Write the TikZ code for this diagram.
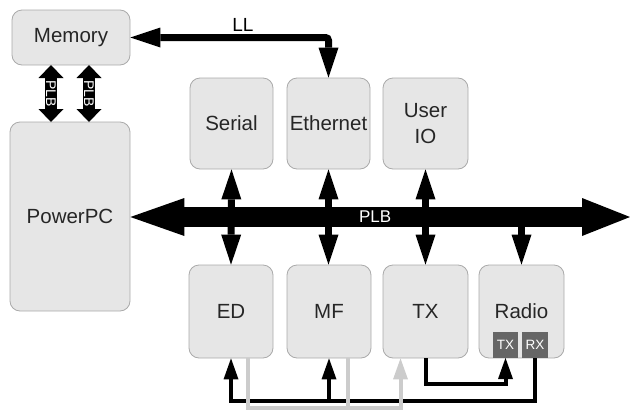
\documentclass[tikz,border=0pt]{standalone}
\usepackage{fontspec}
\setmainfont{Liberation Sans}
\usetikzlibrary{arrows.meta, positioning}
\definecolor{boxfill}{HTML}{E6E6E6}
\definecolor{boxline}{HTML}{AAAAAA}
\definecolor{portfill}{HTML}{666666}
\definecolor{faint}{HTML}{CCCCCC}
\newcommand{\fnt}[1]{\fontsize{#1}{1.25\dimexpr#1pt\relax}\selectfont}

\begin{document}
\begin{tikzpicture}[x=1pt, y=-1pt,
    block/.style={draw=boxline, fill=boxfill, rounded corners=10pt, line width=0.8pt,
        text=black!85, align=center, font=\fnt{20.5}, inner sep=0pt},
    port/.style={fill=portfill, text=white, font=\fnt{13.5}, inner sep=0pt,
        minimum width=25pt, minimum height=26pt},
    bus/.style={line width=20pt, {Triangle[width=38pt,length=54pt,line width'=0pt]}-{Triangle[width=38pt,length=48pt,line width'=0pt]}},
    fat/.style={line width=12pt, {Triangle[width=25pt,length=13pt,line width'=0pt]}-{Triangle[width=25pt,length=13pt,line width'=0pt]}},
    link/.style={line width=7pt, {Triangle[width=20pt,length=30pt,line width'=0pt]}-{Triangle[width=20pt,length=30pt,line width'=0pt]}},
    down/.style={line width=7pt, -{Triangle[width=20pt,length=30pt,line width'=0pt]}},
    wire/.style={line width=4pt, -{Triangle[width=15pt,length=21pt,line width'=0pt]}},
    gwire/.style={wire, draw=faint},
]
\useasboundingbox (0,0) rectangle (630,410);

\node[block, minimum width=118pt, minimum height=55pt] (mem) at (71,37.5) {Memory};
\node[block, minimum width=120pt, minimum height=189pt] (ppc) at (70,216.5) {PowerPC};

\node[block, minimum width=83pt, minimum height=91pt] (serial) at (231.5,123.5) {Serial};
\node[block, minimum width=83pt, minimum height=91pt] (eth) at (328.5,123.5) {Ethernet};
\node[block, minimum width=85pt, minimum height=91pt] (uio) at (425.5,123.5) {User\\IO};

\node[block, minimum width=84pt, minimum height=93pt] (ed) at (231,311.5) {ED};
\node[block, minimum width=84pt, minimum height=93pt] (mf) at (329,311.5) {MF};
\node[block, minimum width=85pt, minimum height=93pt] (tx) at (425.5,311.5) {TX};
\node[block, minimum width=85pt, minimum height=93pt] (radio) at (521.5,311.5) {Radio};
\node[port, anchor=south] (radtx) at (505.5,358) {TX};
\node[port, anchor=south, minimum width=26pt] (radrx) at (535,358) {RX};

% memory <-> powerpc
\draw[fat] (51,65) -- node[rotate=-90, text=white, font=\fnt{14}] (plbl) {PLB} (51,122);
\draw[fat] (89,65) -- node[rotate=-90, text=white, font=\fnt{14}] (plbr) {PLB} (89,122);

% local link
\draw[link, rounded corners=3pt] (mem.east) -| (eth.north);
\node[font=\fnt{19}] (ll) at (243,25) {LL};

% peripheral bus
\coordinate (busend) at (630,217);
\coordinate (radtap) at (radio.north |- busend);
\draw[link] (serial.south) -- (ed.north);
\draw[link] (eth.south) -- (eth.south |- mf.north);
\draw[link] (uio.south) -- (tx.north);
\draw[down] (radtap) -- (radio.north);
\draw[bus] (ppc.east |- busend) -- node[text=white, font=\fnt{17}, xshift=-5pt] (plb) {PLB} (busend);

% data path
\coordinate (lowa) at (0,401);
\coordinate (lowb) at (0,408);
\coordinate (lowc) at (0,384);
\draw[wire] (tx.south) |- (radtx.south |- lowc) -- (radtx.south);
\draw[wire] (radrx.south) |- (ed.south |- lowa) -- (ed.south);
\draw[wire] (mf.south |- lowa) -- (mf.south);
\draw[gwire, -] ([xshift=19pt]mf.south) -- ([xshift=19pt]mf.south |- lowb);
\draw[gwire] ([xshift=17pt]ed.south) |- ([xshift=-25pt]tx.south |- lowb) -- ([xshift=-25pt]tx.south);
\end{tikzpicture}
\end{document}
